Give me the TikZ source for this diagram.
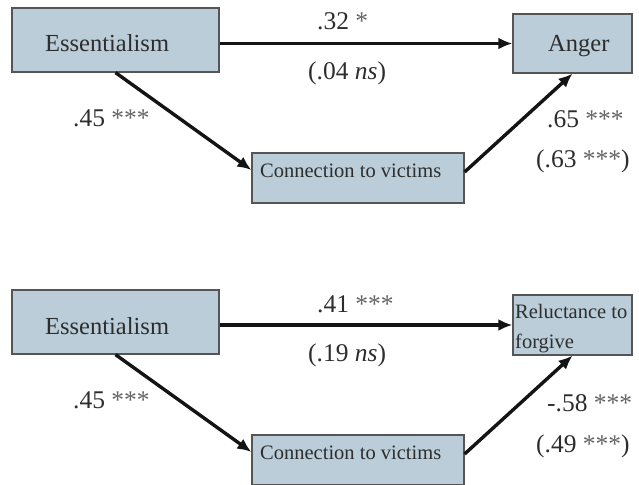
\documentclass[tikz,border=0pt]{standalone}
\usepackage{fontspec}
\setmainfont{Liberation Serif}
\usetikzlibrary{arrows.meta}
\definecolor{boxfill}{RGB}{186,205,217}
\definecolor{boxline}{RGB}{85,85,85}
\definecolor{txt}{RGB}{45,45,45}
\definecolor{star}{RGB}{100,100,100}
\newcommand{\stars}[1]{\textcolor{star}{#1}}
\begin{document}
\begin{tikzpicture}[x=1pt,y=-1pt,
  box/.style={draw=boxline, fill=boxfill, line width=1.2pt, inner sep=0pt, rectangle},
  boxtxt/.style={anchor=base west, inner sep=0pt, text=txt},
  big/.style={boxtxt, font=\fontsize{24.5}{29}\selectfont},
  small/.style={boxtxt, font=\fontsize{20.5}{30}\selectfont, align=left},
  lbl/.style={anchor=base west, inner sep=0pt, text=txt, font=\fontsize{25.5}{30}\selectfont},
  arr/.style={line width=3.4pt, draw=black!92, -{Latex[length=14pt,width=12pt]}}]
\useasboundingbox (0,0) rectangle (639,484);
% ---------- top panel ----------
\node[box, minimum width=207pt, minimum height=64pt] (ess1) at (115.5,40) {};
\node[big] (ess1t) at (45,52) {Essentialism};
\node[box, minimum width=119pt, minimum height=59pt] (ang) at (572.5,43.5) {};
\node[big] (angt) at (548,52) {Anger};
\node[box, minimum width=212pt, minimum height=50pt] (conn1) at (358,178) {};
\node[small] (conn1t) at (260,177) {Connection to victims};
\draw[arr] (ess1.east |- ang.west) -- (ang.west);
\draw[arr] (ess1.south) -- ([yshift=8pt]conn1.west);
\draw[arr] ([yshift=6pt]conn1.east) -- (ang.south);
\node[lbl] (l1) at (317,30) {.32 \stars{*}};
\node[lbl] (l2) at (308,80) {(.04 \textit{ns})};
\node[lbl] (l3) at (73,126) {.45 \stars{***}};
\node[lbl] (l4) at (547,128) {.65 \stars{***}};
\node[lbl] (l5) at (536,167) {(.63 \stars{***})};
% ---------- bottom panel ----------
\node[box, minimum width=207pt, minimum height=64pt] (ess2) at (115.5,322) {};
\node[big] (ess2t) at (45,334) {Essentialism};
\node[box, minimum width=119pt, minimum height=60pt] (rel) at (572.5,325) {};
\node[small] (relt) at (515,348) {Reluctance to\\forgive};
\node[box, minimum width=212pt, minimum height=50pt] (conn2) at (358,460) {};
\node[small] (conn2t) at (260,459) {Connection to victims};
\draw[arr] (ess2.east |- rel.west) -- (rel.west);
\draw[arr] (ess2.south) -- ([yshift=8pt]conn2.west);
\draw[arr] ([yshift=6pt]conn2.east) -- (rel.south);
\node[lbl] (m1) at (317,312) {.41 \stars{***}};
\node[lbl] (m2) at (308,361) {(.19 \textit{ns})};
\node[lbl] (m3) at (73,408) {.45 \stars{***}};
\node[lbl] (m4) at (547,411) {-.58 \stars{***}};
\node[lbl] (m5) at (536,452) {(.49 \stars{***})};
\end{tikzpicture}
\end{document}
